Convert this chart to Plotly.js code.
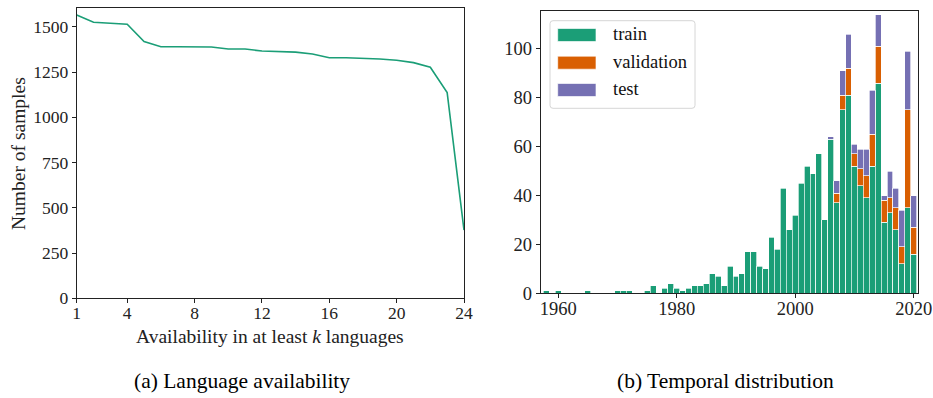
<!DOCTYPE html>
<html>
<head>
<meta charset="utf-8">
<script src="https://cdn.plot.ly/plotly-3.0.1.min.js"></script>
<style>html,body{margin:0;padding:0;background:#fff;}#chart{width:933px;height:398px;}</style>
</head>
<body>
<div id="chart"></div>
<script>
// ---- Data: (a) language availability ----
const kLanguages = [1,2,3,4,5,6,7,8,9,10,11,12,13,14,15,16,17,18,19,20,21,22,23,24];
const numSamples = [1565,1525,1519,1514,1418,1390,1390,1390,1388,1377,1377,1366,1363,1360,1350,1329,1329,1327,1322,1315,1302,1276,1136,377];

// ---- Data: (b) temporal distribution ----
const years = [];
for (let y = 1958; y <= 2020; y++) years.push(y);
const trainCounts = [
  1,0,1,0,0,0,0,1,0,0,0,0,1,1,1,0,0,1,3,0,2,4,       // 1958-1979
  2,1,2,3,3,4,8,7,3,11,7,8,17,17,11,10,23,18,43,26,   // 1980-1999
  32,45,52,49,57,30,63,37,75,81,52,44,39,52,86,29,33,26,12,35,16 // 2000-2020
];
const validationCounts = [
  0,0,0,0,0,0,0,0,0,0,0,0,0,0,0,0,0,0,0,0,0,0,
  0,0,0,0,0,0,0,0,0,0,0,0,0,0,0,0,0,0,0,0,
  0,0,0,0,0,0,0,4,6,11,5,7,9,13,15,9,6,9,7,40,11
];
const testCounts = [
  0,0,0,0,0,0,0,0,0,0,0,0,0,0,0,0,0,0,0,0,0,0,
  0,0,0,0,0,0,0,0,0,0,0,0,0,0,0,0,0,0,0,0,
  0,0,0,0,0,0,1,5,10,14,4,8,11,18,13,2,11,8,15,24,13
];
const seriesNames = ['train','validation','test'];
const seriesColors = ['#1b9e77','#d95f02','#7570b3'];

const leftTicks = [1,4,8,12,16,20,24];
const leftYTicks = [0,250,500,750,1000,1250,1500];
const rightXTicks = [1960,1980,2000,2020];
const rightYTicks = [0,20,40,60,80,100];
const captions = ['(a) Language availability','(b) Temporal distribution'];

// ---- Layout helpers (pixel -> paper) ----
const W = 933, H = 398;
const px = x => x / W;
const py = y => 1 - y / H;
const nz = arr => arr.map(v => v === 0 ? null : v);

const FONT = 'Liberation Serif, Times New Roman, serif';
const INK = '#222222';

const traces = [
  {
    type: 'scatter', mode: 'lines', x: kLanguages, y: numSamples,
    xaxis: 'x', yaxis: 'y', line: {color: '#1b9e77', width: 1.6},
    showlegend: false, hoverinfo: 'x+y'
  }
];
[trainCounts, validationCounts, testCounts].forEach((vals, i) => {
  traces.push({
    type: 'bar', x: years, y: nz(vals), name: seriesNames[i],
    xaxis: 'x2', yaxis: 'y2',
    marker: {color: seriesColors[i], line: {color: 'rgba(255,255,255,0.85)', width: 0.8}},
    showlegend: false
  });
});

const axisCommon = {
  showline: true, mirror: true, linecolor: INK, linewidth: 1,
  ticks: 'outside', ticklen: 4, tickwidth: 1, tickcolor: INK,
  showgrid: false, zeroline: false,
  tickfont: {family: FONT, size: 17.5, color: INK}
};

// custom legend (matplotlib-style wide patches)
const shapes = [];
const annotations = [];
const lgX0 = 550, lgX1 = 695, lgY0 = 20.7, lgY1 = 108.3, r = 3;
const rx = r / W, ry = r / H;
const X0 = px(lgX0), X1 = px(lgX1), Y0 = py(lgY0), Y1 = py(lgY1);
shapes.push({
  type: 'path', xref: 'paper', yref: 'paper',
  path: `M ${X0+rx},${Y0} L ${X1-rx},${Y0} Q ${X1},${Y0} ${X1},${Y0-ry} L ${X1},${Y1+ry} Q ${X1},${Y1} ${X1-rx},${Y1} L ${X0+rx},${Y1} Q ${X0},${Y1} ${X0},${Y1+ry} L ${X0},${Y0-ry} Q ${X0},${Y0} ${X0+rx},${Y0} Z`,
  fillcolor: 'rgba(255,255,255,0.85)', line: {color: '#d6d6d6', width: 1}
});
const rowY = [35, 62.7, 90];
seriesNames.forEach((n, i) => {
  shapes.push({
    type: 'rect', xref: 'paper', yref: 'paper',
    x0: px(557.7), x1: px(596), y0: py(rowY[i] - 6.5), y1: py(rowY[i] + 6.5),
    fillcolor: seriesColors[i], line: {color: 'rgba(255,255,255,0.8)', width: 0.8}
  });
  annotations.push({
    xref: 'paper', yref: 'paper', x: px(610.5), y: py(rowY[i] - 1), xanchor: 'left', yanchor: 'middle',
    text: n, showarrow: false, font: {family: FONT, size: 18.5, color: '#111'}
  });
});

// axis titles for left panel
annotations.push({
  xref: 'paper', yref: 'paper', x: px(18), y: py(154), xanchor: 'center', yanchor: 'middle',
  text: 'Number of samples', textangle: -90, showarrow: false,
  font: {family: FONT, size: 19.5, color: INK}
});
annotations.push({
  xref: 'paper', yref: 'paper', x: px(270.3), y: py(336), xanchor: 'center', yanchor: 'middle',
  text: 'Availability in at least <i>k</i> languages', showarrow: false,
  font: {family: FONT, size: 19.5, color: INK}
});
// captions
annotations.push({
  xref: 'paper', yref: 'paper', x: px(242), y: py(381), xanchor: 'center', yanchor: 'middle',
  text: captions[0], showarrow: false, font: {family: FONT, size: 21.5, color: '#000'}
});
annotations.push({
  xref: 'paper', yref: 'paper', x: px(725), y: py(381), xanchor: 'center', yanchor: 'middle',
  text: captions[1], showarrow: false, font: {family: FONT, size: 21.5, color: '#000'}
});

const layout = {
  width: W, height: H,
  margin: {l: 0, r: 0, t: 0, b: 0, pad: 0},
  paper_bgcolor: '#fff', plot_bgcolor: '#fff',
  showlegend: false,
  barmode: 'stack', bargap: 0,
  xaxis: Object.assign({}, axisCommon, {
    domain: [px(76.7), px(464)], range: [1, 24], tickmode: 'array', tickvals: leftTicks, anchor: 'y',
    ticklabelstandoff: -5
  }),
  yaxis: Object.assign({}, axisCommon, {
    domain: [py(298.3), py(8.3)], range: [0, 1602], tickmode: 'array', tickvals: leftYTicks, anchor: 'x'
  }),
  xaxis2: Object.assign({}, axisCommon, {
    domain: [px(540.7), px(918)], range: [1957.03, 2020.73], tickmode: 'array', tickvals: rightXTicks, anchor: 'y2',
    tickfont: {family: FONT, size: 18.5, color: INK}, ticklabelstandoff: -6
  }),
  yaxis2: Object.assign({}, axisCommon, {
    domain: [py(293.3), py(11)], range: [0, 115.5], tickmode: 'array', tickvals: rightYTicks, anchor: 'x2',
    tickfont: {family: FONT, size: 18.5, color: INK}
  }),
  shapes: shapes,
  annotations: annotations
};

Plotly.newPlot('chart', traces, layout, {staticPlot: true, displayModeBar: false});
</script>
</body>
</html>
